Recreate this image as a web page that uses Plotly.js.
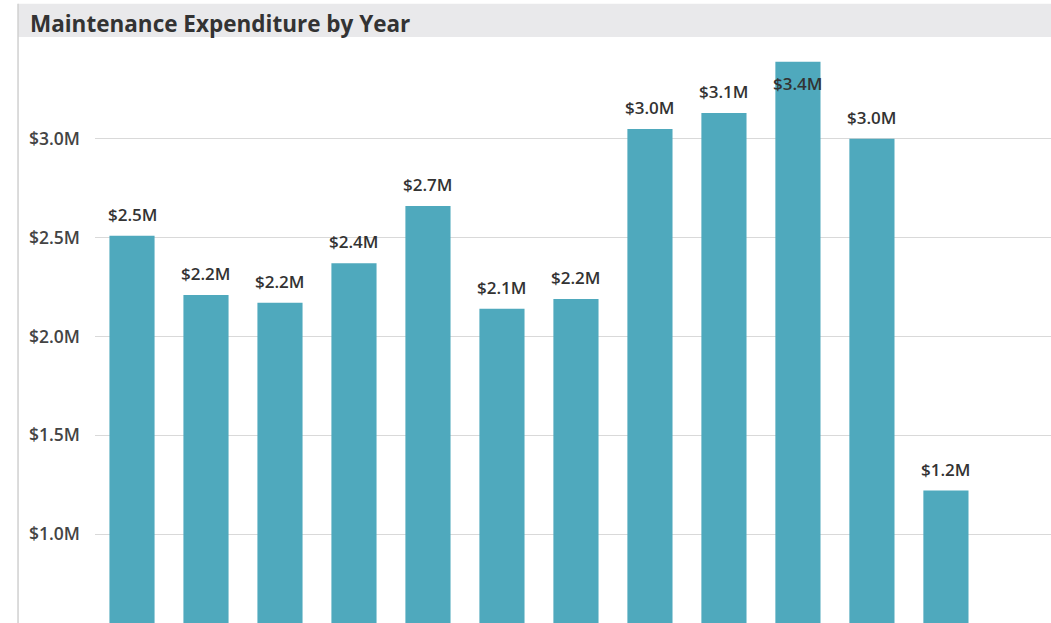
<!DOCTYPE html>
<html>
<head>
<meta charset="utf-8">
<script src="https://cdn.plot.ly/plotly-3.0.1.min.js"></script>
<style>html,body{margin:0;padding:0;background:#fff;}#chart{width:1051px;height:623px;}</style>
</head>
<body>
<div id="chart"></div>
<script>
// Data (years are off-screen in the reference; placeholder category names)
var years = ["2008","2009","2010","2011","2012","2013","2014","2015","2016","2017","2018","2019"];
var expenditure = [2.51, 2.21, 2.17, 2.37, 2.66, 2.14, 2.19, 3.05, 3.13, 3.39, 3.00, 1.22]; // $M
var labels = ["$2.5M","$2.2M","$2.2M","$2.4M","$2.7M","$2.1M","$2.2M","$3.0M","$3.1M","$3.4M","$3.0M","$1.2M"];
var tickValues = [1.0, 1.5, 2.0, 2.5, 3.0];
var tickLabels = ["$1.0M","$1.5M","$2.0M","$2.5M","$3.0M"];

var yMax = 3.5;
var labelFont = {family: "Open Sans, sans-serif", size: 17, color: "#333333", weight: 600};

var trace = {
  type: "bar",
  x: years,
  y: expenditure,
  marker: {color: "#4FA9BD"},
  hoverinfo: "none"
};

// data labels built from the data arrays (category axis: position = index)
var annotations = years.map(function(yr, i){
  var inside = expenditure[i] > 3.3;
  return {
    x: i, y: expenditure[i], xref: "x", yref: "y",
    text: labels[i], showarrow: false,
    xanchor: "center",
    yanchor: inside ? "top" : "bottom",
    yshift: inside ? -8 : 8,
    font: labelFont
  };
});

var layout = {
  width: 1051,
  height: 623,
  margin: {l: 95, r: 0, t: 40, b: 0, pad: 0},
  paper_bgcolor: "#ffffff",
  plot_bgcolor: "#ffffff",
  bargap: 0.39,
  showlegend: false,
  annotations: annotations,
  title: {
    text: "Maintenance Expenditure by Year",
    x: 0.0285, xanchor: "left", xref: "container",
    y: 0.962, yanchor: "middle", yref: "container",
    font: {family: "Open Sans, sans-serif", size: 22.5, color: "#333333", weight: 700}
  },
  xaxis: {
    type: "category",
    range: [-0.5, 12.42],
    showticklabels: false,
    showgrid: false,
    zeroline: false,
    showline: false,
    ticks: ""
  },
  yaxis: {
    range: [0.55, yMax],
    tickmode: "array",
    tickvals: tickValues,
    ticktext: tickLabels,
    showgrid: true,
    gridcolor: "#D9D9D9",
    gridwidth: 1,
    zeroline: false,
    showline: false,
    ticks: "",
    ticklabelstandoff: 14,
    tickfont: {family: "Open Sans, sans-serif", size: 17.5, color: "#444444", weight: 600}
  },
  shapes: [
    {type: "rect", xref: "paper", yref: "paper", x0: -0.0805, x1: 1.0, y0: 1.005, y1: 1.062,
     fillcolor: "#E9E9EB", line: {width: 0}, layer: "below"},
    {type: "line", xref: "paper", yref: "paper", x0: -0.0805, x1: -0.0805, y0: -0.01, y1: 1.062,
     line: {color: "#D0D0D0", width: 1.5}}
  ]
};

Plotly.newPlot("chart", [trace], layout, {displayModeBar: false, staticPlot: true});
</script>
</body>
</html>
